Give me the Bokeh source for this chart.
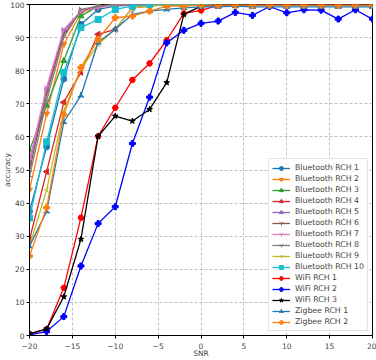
from bokeh.plotting import figure
from bokeh.embed import file_html
from bokeh.resources import INLINE
from bokeh.models import Legend, LegendItem, SingleIntervalTicker

snr = [-20, -18, -16, -14, -12, -10, -8, -6, -4, -2, 0, 2, 4, 6, 8, 10, 12, 14, 16, 18, 20]

bt1 = [37.5, 57, 77.5, 94, 98.5, 99.5, 99.8, 100, 100, 100, 100, 100, 100, 100, 100, 100, 100, 100, 100, 100, 100]
bt2 = [44, 67, 88, 97.5, 99.5, 100, 100, 100, 100, 100, 100, 100, 100, 100, 100, 100, 100, 100, 100, 100, 100]
bt3 = [56, 69.5, 83, 96.5, 99.5, 100, 100, 100, 100, 100, 100, 100, 100, 100, 100, 100, 100, 100, 100, 100, 100]
bt4 = [29, 49.5, 70.5, 79.5, 91, 92.5, 99, 99.5, 100, 100, 100, 100, 100, 100, 100, 100, 100, 100, 100, 100, 100]
bt5 = [52, 74, 92, 98, 99.5, 100, 100, 100, 100, 100, 100, 100, 100, 100, 100, 100, 100, 100, 100, 100, 100]
bt6 = [50, 73, 91, 98, 99.5, 100, 100, 100, 100, 100, 100, 100, 100, 100, 100, 100, 100, 100, 100, 100, 100]
bt7 = [53, 75, 92.5, 98, 99, 100, 100, 100, 100, 100, 100, 100, 100, 100, 100, 100, 100, 100, 100, 100, 100]
bt8 = [48, 71, 90, 98.5, 99.5, 100, 100, 100, 100, 100, 100, 100, 100, 100, 100, 100, 100, 100, 100, 100, 100]
bt9 = [27, 44, 68, 80.5, 88, 92.5, 99, 99.5, 100, 100, 100, 100, 100, 100, 100, 100, 100, 100, 100, 100, 100]
bt10 = [35.5, 58.5, 79.5, 93, 95.5, 98.5, 99.5, 100, 100, 100, 100, 100, 100, 100, 100, 100, 100, 100, 100, 100, 100]
wifi1 = [0.5, 1.9, 14.4, 35.6, 60.2, 68.8, 77.2, 82.2, 89.2, 97.3, 98.2, 99.7, 100, 100, 100, 100, 100, 100, 100, 100, 100]
wifi2 = [0.2, 1.2, 5.7, 21, 33.8, 38.9, 58, 72, 88.4, 92.2, 94.3, 95, 97.6, 96.7, 99.4, 97.5, 98.4, 98.3, 95.6, 98.4, 95.6]
wifi3 = [0.5, 2, 11.7, 29.1, 60.2, 66.3, 64.8, 68.3, 76.4, 97, 99.5, 100, 100, 100, 100, 100, 100, 100, 100, 100, 100]
zig1 = [27, 37.5, 64.5, 72.5, 88.5, 92.5, 97, 98, 98.5, 99, 99.3, 99.3, 99.5, 99.3, 99.3, 99.3, 99.3, 99.3, 99.3, 99.3, 99.3]
zig2 = [24, 38.6, 66.7, 81, 89.5, 96, 96.5, 98, 99.5, 99.5, 99.8, 99.8, 99.8, 99.8, 99.8, 99.8, 99.8, 99.8, 99.8, 99.8, 99.8]

labels = ["Bluetooth RCH 1", "Bluetooth RCH 2", "Bluetooth RCH 3", "Bluetooth RCH 4",
          "Bluetooth RCH 5", "Bluetooth RCH 6", "Bluetooth RCH 7", "Bluetooth RCH 8",
          "Bluetooth RCH 9", "Bluetooth RCH 10", "WiFi RCH 1", "WiFi RCH 2", "WiFi RCH 3",
          "Zigbee RCH 1", "Zigbee RCH 2"]
series = [bt1, bt2, bt3, bt4, bt5, bt6, bt7, bt8, bt9, bt10, wifi1, wifi2, wifi3, zig1, zig2]
colors = ["#1f77b4", "#ff7f0e", "#2ca02c", "#d62728", "#9467bd", "#8c564b", "#e377c2",
          "#7f7f7f", "#bcbd22", "#17becf", "#ff0000", "#0000ff", "#000000", "#1f77b4", "#ff7f0e"]
markers = ["circle", "inverted_triangle", "triangle", "triangle", "triangle", "y", "y",
           "y", "y", "square", "hex", "plus", "star", "triangle_pin", "plus"]
angles = [0, 0, 0, 1.5708, -1.5708, 3.14159, 0, 1.5708, -1.5708, 0, 0, 0, 0, 0, 0]

FONT = "DejaVu Sans"

p = figure(width=376, height=360, output_backend="svg", toolbar_location=None,
           x_range=(-20, 20), y_range=(0, 100),
           min_border_left=0, min_border_right=4, min_border_top=4, min_border_bottom=0)
p.background_fill_color = "white"
p.outline_line_color = "black"
p.outline_line_width = 1

items = []
for lab, ys, c, m, a in zip(labels, series, colors, markers, angles):
    r1 = p.line(snr, ys, line_color=c, line_width=1.3)
    r2 = p.scatter(snr, ys, marker=m, size=6, angle=a, fill_color=c, line_color=c, line_width=1)
    items.append(LegendItem(label=lab, renderers=[r1, r2]))

p.xaxis.ticker = SingleIntervalTicker(interval=5)
p.yaxis.ticker = SingleIntervalTicker(interval=10)
p.xaxis.minor_tick_line_color = None
p.yaxis.minor_tick_line_color = None
for ax in (p.xaxis, p.yaxis):
    ax.major_label_text_font = FONT
    ax.major_label_text_font_size = "7.5px"
    ax.axis_label_text_font = FONT
    ax.axis_label_text_font_size = "7.5px"
    ax.axis_label_text_font_style = "normal"
    ax.major_tick_out = 3
    ax.major_tick_in = 0
    ax.axis_line_color = "black"
p.xaxis.major_label_standoff = 3
p.xaxis.axis_label_standoff = -3
p.yaxis.major_label_standoff = 1
p.yaxis.axis_label_standoff = -5
p.xaxis.axis_label = "SNR"
p.yaxis.axis_label = "accuracy"

p.grid.grid_line_color = "#b0b0b0"
p.grid.grid_line_dash = "3 2"
p.grid.grid_line_width = 0.8

legend = Legend(items=items, location="bottom_right")
legend.label_text_font = FONT
legend.label_text_font_size = "7.8px"
legend.label_height = 11
legend.glyph_height = 10
legend.glyph_width = 18
legend.label_standoff = 5
legend.spacing = 0
legend.padding = 3
legend.margin = 4
legend.border_line_color = "#cccccc"
legend.background_fill_alpha = 0.85
p.add_layout(legend)

open("out.html", "w").write(file_html(p, INLINE))
